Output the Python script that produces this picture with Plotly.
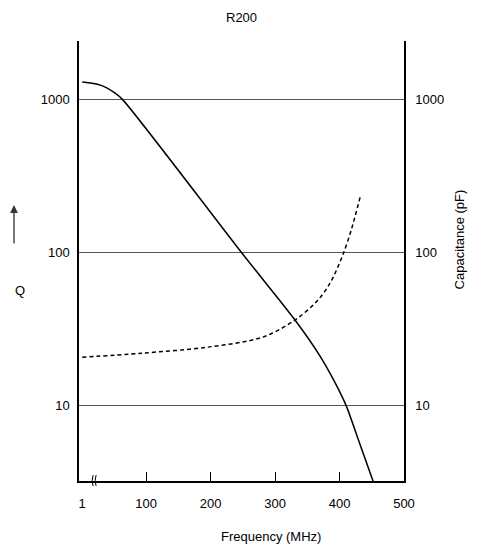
import plotly.graph_objects as go

# Q curve (solid)
freq_q = [1, 29, 52, 63, 248, 331, 370, 391, 410, 431, 452]
q_vals = [1309, 1250, 1109, 1012, 100, 36.1, 20.9, 14.6, 10, 5.64, 3.18]

# capacitance curve (dashed)
freq_c = [1, 94, 196, 281, 331, 365, 385, 405, 419, 432]
cap_vals = [20.6, 21.9, 24.0, 27.9, 36.1, 48.0, 62.7, 96.2, 144.5, 231]

x_ticks = [1, 100, 200, 300, 400, 500]
x_marks = [100, 200, 300, 400]
y_ticks = [10, 100, 1000]
y_labels = ["10", "100", "1000"]

XR = [-4, 500]
YR = [0.503, 3.386]
FONT = dict(family="Arial, Liberation Sans, sans-serif", size=13, color="black")

fig = go.Figure()
fig.add_trace(go.Scatter(x=freq_q, y=q_vals, mode="lines",
                         line=dict(color="black", width=1.5, shape="spline", smoothing=0.8),
                         hoverinfo="skip"))
fig.add_trace(go.Scatter(x=freq_c, y=cap_vals, mode="lines", xaxis="x2", yaxis="y2",
                         line=dict(color="black", width=1.5, dash="4px,3px", shape="spline", smoothing=0.9),
                         hoverinfo="skip"))

fig.update_layout(
    template="none",
    width=481, height=546,
    margin=dict(l=79, r=77, t=41, b=65),
    paper_bgcolor="white", plot_bgcolor="white",
    showlegend=False, font=FONT, hovermode=False,
    xaxis=dict(range=XR, tickvals=x_ticks, ticktext=[str(v) for v in x_ticks],
               ticks="", showgrid=False, zeroline=False, showline=True, automargin=False,
               linecolor="black", linewidth=1.5, ticklabelstandoff=10, tickfont=FONT),
    xaxis2=dict(range=XR, overlaying="x", anchor="y", side="bottom", automargin=False,
                tickvals=x_marks, ticks="inside", ticklen=9, tickcolor="black", tickwidth=1.2,
                showticklabels=False, showgrid=False, zeroline=False, showline=False),
    yaxis=dict(type="log", range=YR, tickvals=y_ticks, ticktext=y_labels, automargin=False,
               ticks="", showgrid=True, gridcolor="#555555", gridwidth=1,
               zeroline=False, showline=True, linecolor="black", linewidth=1.5,
               ticklabelstandoff=5, tickfont=FONT),
    yaxis2=dict(type="log", range=YR, tickvals=y_ticks, ticktext=y_labels, automargin=False,
                overlaying="y", side="right", anchor="x", ticks="", showgrid=False,
                zeroline=False, showline=True, linecolor="black", linewidth=1.5,
                ticklabelstandoff=7, tickfont=FONT),
    annotations=[
        dict(text="R200", xref="paper", yref="paper", x=0.5, y=1, yshift=24,
             yanchor="middle", showarrow=False, font=FONT),
        dict(text="Frequency (MHz)", xref="paper", yref="paper", x=0.59, y=0, yshift=-55,
             yanchor="middle", showarrow=False, font=FONT),
        dict(text="Q", xref="paper", yref="paper", x=0, xshift=-66, y=0.434,
             showarrow=False, font=FONT),
        dict(text="", xref="paper", yref="paper", x=0, xshift=-65, y=0.627,
             ax=0, ay=40, showarrow=True, arrowhead=2, arrowsize=1.2,
             arrowwidth=1.3, arrowcolor="#333333"),
        dict(text="Capacitance (pF)", xref="paper", yref="paper", x=1, xshift=65, y=0.548,
             textangle=-90, showarrow=False, font=FONT),
    ],
    shapes=[
        dict(type="path", xref="x", yref="paper", xsizemode="pixel", ysizemode="pixel",
             xanchor=21, yanchor=0, path="M -2,-5 Q -4,0 -2,6",
             line=dict(color="black", width=1)),
        dict(type="path", xref="x", yref="paper", xsizemode="pixel", ysizemode="pixel",
             xanchor=21, yanchor=0, path="M 1,-5 Q -1,0 1,6",
             line=dict(color="black", width=1)),
    ],
)

fig.write_html("out.html", config={"displayModeBar": False},
               post_script="document.body.style.margin='0px';")
